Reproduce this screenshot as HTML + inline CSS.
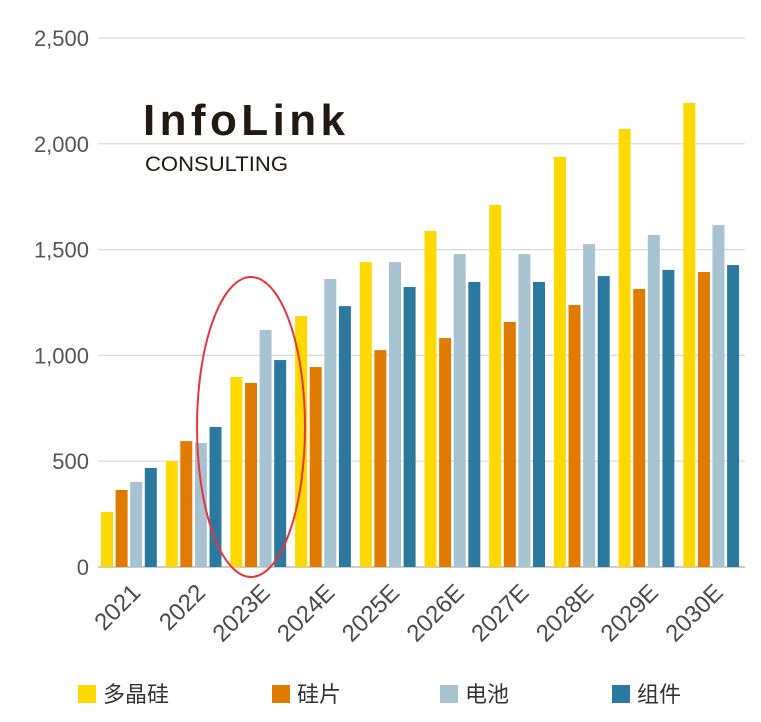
<!DOCTYPE html>
<html><head><meta charset="utf-8"><style>
body{margin:0;background:#fff;}
svg{display:block;font-family:"Liberation Sans","Noto Sans CJK SC",sans-serif;}
</style></head><body>
<svg id="chart" width="761" height="722" viewBox="0 0 761 722">
<g id="grid"></g>
<g id="ylab"></g>
<g id="bars"></g>
<g id="xlab"></g>
<g>
<text x="143" y="135" font-size="44" font-weight="bold" fill="#231815" textLength="202" lengthAdjust="spacing">InfoLink</text>
<text x="145" y="171" font-size="21" fill="#231815" textLength="143" lengthAdjust="spacingAndGlyphs">CONSULTING</text>
</g>
<ellipse cx="251" cy="427" rx="54" ry="150" fill="none" stroke="#E8343A" stroke-width="2"/>
<g id="legend"></g>
</svg>
<script>
const categories=["2021","2022","2023E","2024E","2025E","2026E","2027E","2028E","2029E","2030E"];
const polysilicon=[260,501,898,1186,1441,1588,1711,1938,2070,2193];
const wafer=[364,595,870,945,1025,1082,1158,1238,1314,1394];
const cell=[402,586,1120,1361,1441,1479,1479,1526,1569,1616];
const module_=[468,662,978,1233,1323,1347,1347,1375,1404,1427];
const yTicks=[0,500,1000,1500,2000,2500];
const yTickLabels=["0","500","1,000","1,500","2,000","2,500"];
const seriesNames=["多晶硅","硅片","电池","组件"];
const colors=["#FFD800","#E07B00","#A7C3D1","#2B799E"];
const NS="http://www.w3.org/2000/svg";
const y0=567,y1=38,maxV=2500;
const y=v=>y0-(v/maxV)*(y0-y1);
const gx0=101,gStep=64.7,bStep=14.6,bW=12;
function mk(t,a,p){const e=document.createElementNS(NS,t);for(const k in a)e.setAttribute(k,a[k]);p.appendChild(e);return e;}
const grid=document.getElementById('grid'),ylab=document.getElementById('ylab');
yTicks.forEach((v,i)=>{
 const l=mk('line',{x1:98,x2:745,y1:y(v),y2:y(v),stroke:v===0?'#bbb':'#d9d9d9','stroke-width':v===0?1.5:1.2},grid);
 
 
 const t=mk('text',{x:89,y:y(v)+8,'text-anchor':'end','font-size':22,fill:'#555'},ylab);
 t.textContent=yTickLabels[i];
 
 
});
const series=[polysilicon,wafer,cell,module_];
const bars=document.getElementById('bars'),xlab=document.getElementById('xlab');
categories.forEach((c,i)=>{
 series.forEach((s,j)=>{
  const x=gx0+i*gStep+j*bStep;
  const r=mk('rect',{x:x,y:y(s[i]),width:bW,height:y0-y(s[i]),fill:colors[j]},bars);
  
  
 });
 const cx=gx0+i*gStep+41;
 const t=mk('text',{x:cx,y:594,'text-anchor':'end','font-size':24,fill:'#4a4a4a',transform:`rotate(-45 ${cx} 594)`},xlab);
 t.textContent=c;
 
 
});
const leg=document.getElementById('legend');
const lx=[78,272,440,612];
seriesNames.forEach((n,j)=>{
 const r=mk('rect',{x:lx[j],y:685,width:18,height:18,fill:colors[j]},leg);
 
 
 const t=mk('text',{x:lx[j]+25,y:702,'font-size':22,fill:'#333'},leg);
 t.textContent=n;
 
 
});
</script>
</body></html>
